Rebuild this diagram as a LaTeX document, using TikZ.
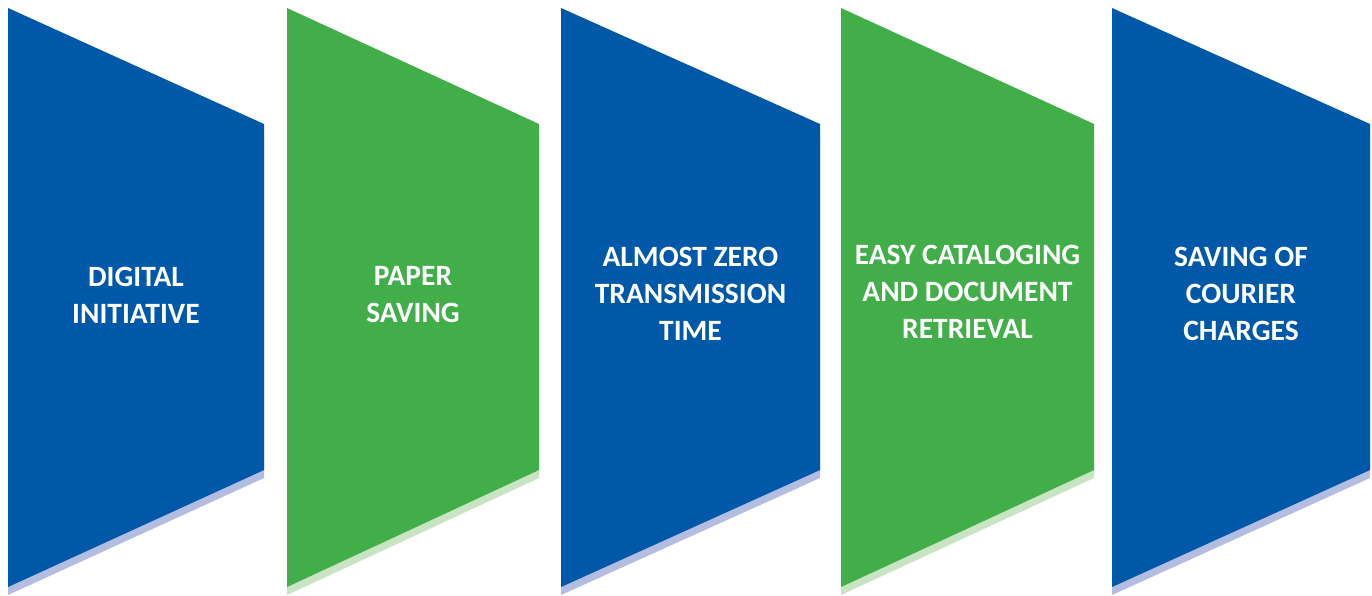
\documentclass[tikz,border=0pt]{standalone}
\usepackage{fontspec}
\setmainfont{Carlito}
\definecolor{sblue}{HTML}{0058A8}
\definecolor{sgreen}{HTML}{41AE4A}
\definecolor{sblueshadow}{HTML}{B2BDE0}
\definecolor{sgreenshadow}{HTML}{C9E4C3}
\tikzset{
  lbl/.style={text=white, font=\fontsize{29.5}{37}\selectfont\bfseries, align=center},
}
\newcommand{\chevronshape}[5]{%
  % #1 left x, #2 right x, #3 fill, #4 shadow, #5 name
  \fill[#4] (#1,16) -- (#2,132) -- (#2,478) -- (#1,595) -- cycle;
  \fill[#3] (#1,8) -- (#2,124) -- (#2,470) -- (#1,587) -- cycle;
  \coordinate (#5) at ({(#1+#2)/2},294);
}
\begin{document}
\begin{tikzpicture}[x=1pt,y=-1pt]
\useasboundingbox (0,0) rectangle (1372,595);
\chevronshape{8}{264}{sblue}{sblueshadow}{c1}
\chevronshape{287}{539}{sgreen}{sgreenshadow}{c2}
\chevronshape{561}{820}{sblue}{sblueshadow}{c3}
\chevronshape{841}{1094}{sgreen}{sgreenshadow}{c4}
\chevronshape{1112}{1370}{sblue}{sblueshadow}{c5}
\node[lbl] (t1) at ([yshift=-1pt]c1) {DIGITAL\\INITIATIVE};
\node[lbl] (t2) at ([yshift=-1pt]c2) {PAPER\\SAVING};
\node[lbl] (t3) at (c3) {ALMOST ZERO\\TRANSMISSION\\TIME};
\node[lbl] (t4) at ([yshift=2pt]c4) {EASY CATALOGING\\AND DOCUMENT\\RETRIEVAL};
\node[lbl] (t5) at (c5) {SAVING OF\\COURIER\\CHARGES};
\end{tikzpicture}
\end{document}
